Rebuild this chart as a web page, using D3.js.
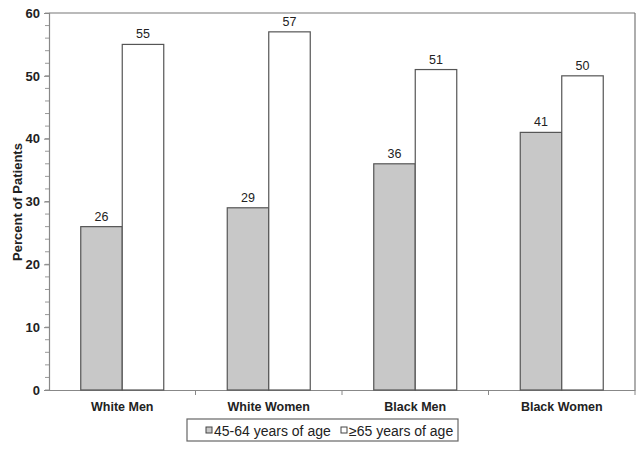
<!DOCTYPE html>
<meta charset="utf-8">
<html>
<head>
<script src="https://d3js.org/d3.v7.min.js"></script>
<style>
body { margin: 0; background: #fff; }
svg text { font-family: Arial, "Liberation Sans", sans-serif; fill: #222; }
</style>
</head>
<body>
<div id="chart"></div>
<script>
// data
var groups = ["White Men", "White Women", "Black Men", "Black Women"];
var seriesNames = ["45-64 years of age", "\u226565 years of age"];
var younger = [26, 29, 36, 41];
var older = [55, 57, 51, 50];
var yTicks = [0, 10, 20, 30, 40, 50, 60];

var fills = ["#c8c8c8", "#ffffff"];

var W = 644, H = 450;
var margin = {top: 13, right: 9, bottom: 60, left: 49};
var width = W - margin.left - margin.right,
    height = H - margin.top - margin.bottom;

var svg = d3.select("#chart").append("svg")
    .attr("width", W).attr("height", H);
var g = svg.append("g")
    .attr("transform", "translate(" + margin.left + "," + margin.top + ")");

var x0 = d3.scaleBand().domain(groups).range([0, width]).paddingInner(0).paddingOuter(0);
var x1 = d3.scaleBand().domain([0, 1]).range([x0.bandwidth() / 2 - 41.5, x0.bandwidth() / 2 + 41.5]);
var y = d3.scaleLinear().domain([0, 60]).range([height, 0]);

// frame top + right
g.append("line").attr("x1", 0).attr("x2", width).attr("y1", 0).attr("y2", 0)
  .attr("stroke", "#777").attr("stroke-width", 1.2);
g.append("line").attr("x1", width).attr("x2", width).attr("y1", 0).attr("y2", height)
  .attr("stroke", "#777").attr("stroke-width", 1.2);

// minor ticks every 2
var minor = d3.range(0, 61, 2);
g.append("g").selectAll("line").data(minor).join("line")
  .attr("x1", -4).attr("x2", 0)
  .attr("y1", function(d) { return y(d); }).attr("y2", function(d) { return y(d); })
  .attr("stroke", "#999");

// y axis
var yAxis = g.append("g").call(d3.axisLeft(y).tickValues(yTicks).tickSize(5).tickPadding(4));
yAxis.select(".domain").attr("stroke", "#888").attr("stroke-width", 1.2);
yAxis.selectAll(".tick line").attr("stroke", "#888");
yAxis.selectAll("text").style("font-size", "13px").style("font-weight", "bold").attr("fill", "#222");

// x axis
var xAxis = g.append("g").attr("transform", "translate(0," + height + ")")
  .call(d3.axisBottom(x0).tickSize(0).tickPadding(12));
xAxis.select(".domain").attr("stroke", "#888").attr("stroke-width", 1.2);
xAxis.selectAll("text").style("font-size", "12.5px").style("font-weight", "bold").attr("fill", "#222");
// tick marks at group boundaries
g.append("g").selectAll("line").data(groups).join("line")
  .attr("x1", function(d) { return x0(d) + x0.bandwidth(); })
  .attr("x2", function(d) { return x0(d) + x0.bandwidth(); })
  .attr("y1", height).attr("y2", height + 5)
  .attr("stroke", "#888");

// bars
var rows = groups.map(function(gname, i) {
  return {group: gname, values: [younger[i], older[i]]};
});
var grp = g.selectAll(".grp").data(rows).join("g")
  .attr("class", "grp")
  .attr("transform", function(d) { return "translate(" + x0(d.group) + ",0)"; });

grp.selectAll("rect").data(function(d) { return d.values; }).join("rect")
  .attr("x", function(d, i) { return x1(i); })
  .attr("y", function(d) { return y(d); })
  .attr("width", x1.bandwidth())
  .attr("height", function(d) { return height - y(d); })
  .attr("fill", function(d, i) { return fills[i]; })
  .attr("stroke", "#555").attr("stroke-width", 1.2);

grp.selectAll("text.val").data(function(d) { return d.values; }).join("text")
  .attr("class", "val")
  .attr("x", function(d, i) { return x1(i) + x1.bandwidth() / 2; })
  .attr("y", function(d) { return y(d) - 6; })
  .attr("text-anchor", "middle")
  .style("font-size", "12.5px")
  .text(function(d) { return d; });

// y title
svg.append("text")
  .attr("transform", "translate(22," + 202 + ") rotate(-90)")
  .attr("text-anchor", "middle")
  .style("font-size", "13px").style("font-weight", "bold")
  .text("Percent of Patients");

// legend
var leg = svg.append("g").attr("transform", "translate(187,419)");
leg.append("rect").attr("width", 271).attr("height", 22)
  .attr("fill", "#fff").attr("stroke", "#666").attr("stroke-width", 1.2);
var legX = [19, 154];
seriesNames.forEach(function(name, i) {
  leg.append("rect").attr("x", legX[i]).attr("y", 8).attr("width", 6).attr("height", 6)
    .attr("fill", fills[i]).attr("stroke", "#444");
  leg.append("text").attr("x", legX[i] + 8).attr("y", 16.5)
    .style("font-size", "14px")
    .text(name);
});
</script>
</body>
</html>
